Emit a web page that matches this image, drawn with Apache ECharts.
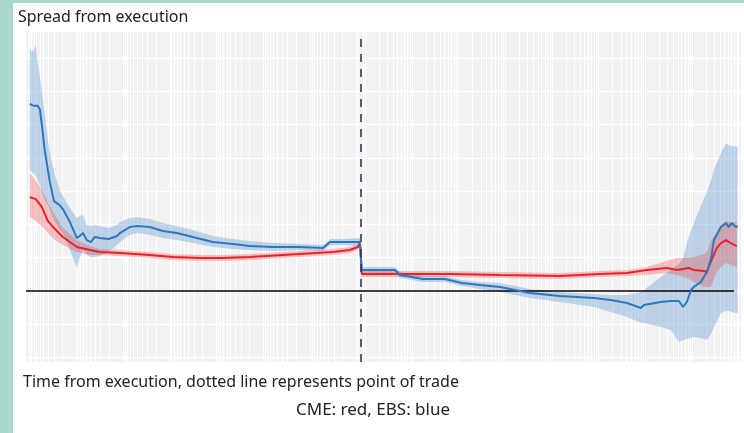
<!DOCTYPE html>
<html>
<head>
<meta charset="utf-8">
<title>Spread from execution</title>
<script src="https://cdn.jsdelivr.net/npm/echarts@6/dist/echarts.min.js"></script>
<style>
  html, body { margin: 0; padding: 0; background: #fff; }
  #chart { width: 744px; height: 433px; }
</style>
</head>
<body>
<div id="chart"></div>
<script>
// x: time from execution, in decades of a symmetric log scale (0 = trade)
// EBS (blue)
const ebsTime = [-7.09, -7.05, -7.00, -6.96, -6.92, -6.87, -6.81, -6.77, -6.70, -6.66,
  -6.57, -6.45, -6.38, -6.23, -6.08, -6.02, -5.95, -5.87, -5.78, -5.70,
  -5.59, -5.40, -5.22, -5.16, -4.95, -4.78, -4.52, -4.24, -3.94, -3.60,
  -3.17, -2.74, -2.38, -1.88, -1.31, -0.81, -0.66, -0.34, -0.02, 0.02,
  0.73, 0.84, 1.33, 1.80, 2.16, 2.55, 2.98, 3.62, 4.26, 4.99,
  5.35, 5.70, 6.00, 6.06, 6.42, 6.64, 6.81, 6.90, 6.98, 7.07,
  7.13, 7.28, 7.41, 7.50, 7.56, 7.71, 7.82, 7.88, 7.94, 8.03, 8.07]
const ebsSpread = [5.62, 5.68, 5.56, 5.62, 5.56, 5.44, 4.74, 4.23, 3.63, 3.27,
  2.70, 2.58, 2.46, 2.07, 1.59, 1.65, 1.74, 1.53, 1.47, 1.62,
  1.59, 1.56, 1.65, 1.74, 1.92, 1.95, 1.92, 1.80, 1.74, 1.62,
  1.47, 1.41, 1.35, 1.32, 1.32, 1.29, 1.47, 1.47, 1.47, 0.63,
  0.63, 0.48, 0.36, 0.36, 0.24, 0.18, 0.12, -0.06, -0.15, -0.21,
  -0.27, -0.36, -0.51, -0.42, -0.33, -0.30, -0.30, -0.48, -0.33, 0.03,
  0.12, 0.27, 0.57, 0.99, 1.53, 1.92, 2.04, 1.92, 2.04, 1.92, 1.95]
const ebsHigh = [7.30, 7.18, 7.24, 7.39, 6.85, 6.43, 5.77, 5.32, 4.53, 4.17,
  3.57, 3.03, 2.85, 2.49, 2.19, 2.25, 2.28, 1.98, 1.95, 1.98,
  1.95, 1.89, 1.98, 2.07, 2.19, 2.22, 2.16, 2.04, 1.95, 1.83,
  1.65, 1.56, 1.50, 1.44, 1.41, 1.38, 1.56, 1.56, 1.59, 0.72,
  0.72, 0.57, 0.45, 0.45, 0.33, 0.27, 0.24, 0.06, -0.03, -0.09,
  -0.12, -0.12, -0.03, 0.03, 0.42, 0.63, 0.81, 0.99, 1.44, 1.83,
  2.04, 2.55, 2.97, 3.33, 3.63, 4.14, 4.44, 4.38, 4.35, 4.35, 4.32]
const ebsLow = [3.63, 3.57, 3.51, 3.45, 3.33, 3.18, 2.88, 2.73, 2.58, 2.43,
  2.13, 1.83, 1.74, 1.23, 0.69, 0.99, 1.23, 1.08, 1.02, 1.02,
  1.05, 1.17, 1.38, 1.47, 1.68, 1.74, 1.68, 1.59, 1.53, 1.44,
  1.32, 1.26, 1.23, 1.20, 1.23, 1.20, 1.38, 1.38, 1.35, 0.54,
  0.54, 0.39, 0.27, 0.27, 0.15, 0.06, -0.03, -0.21, -0.33, -0.48,
  -0.63, -0.78, -0.96, -0.96, -1.08, -1.17, -1.53, -1.47, -1.44, -1.41,
  -1.38, -1.41, -1.47, -1.29, -1.08, -0.66, -0.60, -0.60, -0.63, -0.66, -0.66]

// CME (red)
const cmeTime = [-7.09, -6.96, -6.83, -6.70, -6.55, -6.38, -6.08, -5.80, -5.59, -5.16,
  -4.52, -4.03, -3.45, -2.96, -2.38, -1.31, -0.60, -0.24, -0.06, -0.02,
  0.02, 0.84, 1.91, 2.98, 4.26, 5.12, 5.70, 6.12, 6.55, 6.77,
  7.02, 7.13, 7.35, 7.41, 7.49, 7.62, 7.71, 7.82, 7.92, 8.05]
const cmeSpread = [2.82, 2.76, 2.52, 2.10, 1.86, 1.62, 1.32, 1.23, 1.17, 1.14,
  1.08, 1.02, 0.99, 0.99, 1.02, 1.11, 1.17, 1.23, 1.32, 1.47,
  0.51, 0.51, 0.51, 0.48, 0.45, 0.51, 0.54, 0.63, 0.69, 0.63,
  0.69, 0.63, 0.60, 0.57, 0.87, 1.29, 1.44, 1.53, 1.44, 1.35]
const cmeHigh = [3.54, 3.33, 3.03, 2.64, 2.28, 1.89, 1.53, 1.35, 1.26, 1.23,
  1.17, 1.11, 1.08, 1.08, 1.11, 1.20, 1.26, 1.32, 1.41, 1.56,
  0.60, 0.60, 0.60, 0.57, 0.54, 0.60, 0.63, 0.72, 0.90, 0.99,
  0.99, 1.02, 1.11, 1.17, 1.47, 1.77, 1.98, 2.10, 2.07, 2.07]
const cmeLow = [2.22, 2.10, 1.95, 1.74, 1.53, 1.38, 1.17, 1.08, 1.08, 1.05,
  0.99, 0.93, 0.90, 0.90, 0.93, 1.02, 1.08, 1.14, 1.23, 1.38,
  0.42, 0.42, 0.42, 0.39, 0.36, 0.42, 0.45, 0.48, 0.54, 0.48,
  0.36, 0.27, 0.12, 0.12, 0.12, 0.57, 0.72, 0.84, 0.78, 0.72]

const xMin = -7.17
const xMax = 8.14
const tradeTime = 0
const zeroLineEnd = 7.99

// log-style vertical grid, mirrored either side of the trade
const decadeEdge = 0.092
const gridTimes = []
for (let n = 0; n < 9; n++) {
  for (let k = 2; k <= 10; k++) {
    const off = 1 - Math.log10(k)
    const l = -(decadeEdge + n) + off
    const r = decadeEdge + n - off
    if (l > xMin && l < 0) gridTimes.push(l)
    if (r > 0 && r < xMax) gridTimes.push(r)
  }
}

const font = "'Noto Sans', 'Open Sans', sans-serif"
const hidden = { show: false }

function band(times, low, high, color) {
  return {
    type: 'custom',
    xAxisIndex: 0,
    yAxisIndex: 0,
    z: 2,
    silent: true,
    data: times.map((t, i) => [t, low[i], high[i]]),
    encode: { x: 0, y: [1, 2] },
    renderItem: function(params, api) {
      if (params.dataIndex !== 0) return null
      const pts = []
      for (let i = 0; i < times.length; i++) pts.push(api.coord([times[i], high[i]]))
      for (let i = times.length - 1; i >= 0; i--) pts.push(api.coord([times[i], low[i]]))
      return { type: 'polygon', shape: { points: pts }, style: { fill: color } }
    }
  }
}

function meanLine(name, times, values, color, z) {
  return {
    name: name,
    type: 'line',
    xAxisIndex: 0,
    yAxisIndex: 0,
    z: z,
    data: times.map((t, i) => [t, values[i]]),
    showSymbol: false,
    symbol: 'none',
    lineStyle: { color: color, width: 2 },
    silent: true
  }
}

const chart = echarts.init(document.getElementById('chart'), null, { renderer: 'canvas' })
chart.setOption({
  animation: false,
  backgroundColor: '#fff',
  graphic: [
    { type: 'rect', shape: { x: 0, y: 0, width: 13, height: 433 }, style: { fill: '#a7d8cb' } },
    { type: 'rect', shape: { x: 0, y: 0, width: 744, height: 3 }, style: { fill: '#a7d8cb' } }
  ],
  title: [
    {
      text: 'Spread from execution', left: 18, top: 9, padding: 0,
      textStyle: { fontFamily: font, fontSize: 16, fontWeight: 'normal', color: '#222' }
    },
    {
      text: 'Time from execution, dotted line represents point of trade', left: 23, top: 374, padding: 0,
      textStyle: { fontFamily: font, fontSize: 16, fontWeight: 'normal', color: '#222' }
    },
    {
      text: 'CME: red, EBS: blue', left: 296, top: 402, padding: 0,
      textStyle: { fontFamily: font, fontSize: 17, fontWeight: 'normal', color: '#222' }
    }
  ],
  grid: [
    // data grid: y from -2 to 8, one white line per unit
    { left: 26, right: 3, top: 24.6, bottom: 75.4, show: false },
    // grey panel behind it
    { left: 26, right: 3, top: 32, bottom: 71, show: true, backgroundColor: '#f2f2f2', borderWidth: 0 }
  ],
  xAxis: [
    { type: 'value', gridIndex: 0, min: xMin, max: xMax, axisLine: hidden, axisTick: hidden, axisLabel: hidden, splitLine: hidden },
    { type: 'value', gridIndex: 1, min: xMin, max: xMax, axisLine: hidden, axisTick: hidden, axisLabel: hidden, splitLine: hidden }
  ],
  yAxis: [
    {
      type: 'value', gridIndex: 0, min: -2, max: 8, interval: 1,
      axisLine: hidden, axisTick: hidden, axisLabel: hidden,
      splitLine: { show: true, lineStyle: { color: '#ffffff', width: 1.4 } }
    },
    { type: 'value', gridIndex: 1, min: 0, max: 1, axisLine: hidden, axisTick: hidden, axisLabel: hidden, splitLine: hidden }
  ],
  series: [
    {
      type: 'line', xAxisIndex: 1, yAxisIndex: 1, z: 1, data: [], silent: true,
      markLine: {
        z: 1, silent: true, symbol: 'none', label: hidden,
        lineStyle: { color: '#ffffff', width: 1, type: 'solid' },
        data: gridTimes.map(v => ({ xAxis: v }))
      }
    },
    band(ebsTime, ebsLow, ebsHigh, 'rgba(60,130,195,0.30)'),
    band(cmeTime, cmeLow, cmeHigh, 'rgba(235,45,45,0.27)'),
    Object.assign(meanLine('CME', cmeTime, cmeSpread, '#e8232a', 4), {
      markLine: {
        z: 3, silent: true, symbol: 'none', label: hidden,
        lineStyle: { color: '#000', width: 1.5, type: 'solid' },
        data: [[{ coord: [xMin, 0] }, { coord: [zeroLineEnd, 0] }]]
      }
    }),
    meanLine('EBS', ebsTime, ebsSpread, '#2e77bd', 5),
    {
      type: 'line', xAxisIndex: 1, yAxisIndex: 1, z: 6, data: [], silent: true,
      markLine: {
        z: 6, silent: true, symbol: 'none', label: hidden,
        lineStyle: { color: '#2c3a57', width: 1.6, type: [8, 7] },
        data: [{ xAxis: tradeTime }]
      }
    }
  ]
})
</script>
</body>
</html>
